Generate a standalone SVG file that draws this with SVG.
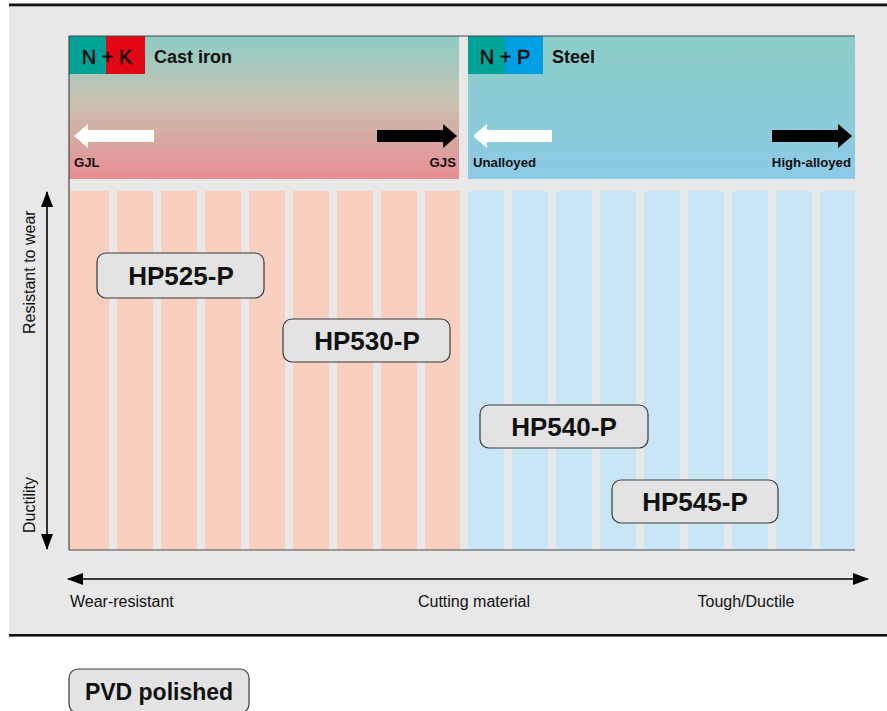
<svg xmlns="http://www.w3.org/2000/svg" width="887" height="711" viewBox="0 0 887 711">
<defs>
<linearGradient id="gCast" x1="0" y1="0" x2="0" y2="1">
<stop offset="0" stop-color="#8ccdc6"/>
<stop offset="0.45" stop-color="#c8c2b1"/>
<stop offset="1" stop-color="#e88d92"/>
</linearGradient>
<linearGradient id="gSteel" x1="0" y1="0" x2="0" y2="1">
<stop offset="0" stop-color="#8ccec7"/>
<stop offset="1" stop-color="#8ccae6"/>
</linearGradient>
<marker id="ah" viewBox="0 0 16 12" refX="15" refY="6" markerWidth="16" markerHeight="12" markerUnits="userSpaceOnUse" orient="auto-start-reverse">
<path d="M0,0 L16,6 L0,12 Z" fill="#000"/>
</marker>
<style>
.pk{fill:#f9cfbf}
.bl{fill:#c9e6f7}
.lbl{fill:#e3e3e3;stroke:#3a3a3a;stroke-width:1.2}
.lt{font-family:"Liberation Sans",Arial,sans-serif;font-weight:bold;font-size:26px;fill:#111;text-anchor:middle}
.ax{font-family:"Liberation Sans",Arial,sans-serif;font-size:16px;fill:#111}
.sm{font-family:"Liberation Sans",Arial,sans-serif;font-weight:bold;font-size:13.2px;fill:#111}
.hd{font-family:"Liberation Sans",Arial,sans-serif;font-weight:bold;font-size:18px;fill:#111}
.nk{font-family:"Liberation Sans",Arial,sans-serif;font-size:20px;fill:#000;stroke:#000;stroke-width:0.4;text-anchor:middle}
</style>
</defs>
<rect x="0" y="0" width="887" height="711" fill="#fff"/>
<rect x="9" y="5" width="878" height="630" fill="#e8e8e8"/>
<rect x="9" y="3.5" width="878" height="2.8" fill="#111"/>
<rect x="9" y="634" width="878" height="2.6" fill="#111"/>

<g id="cast-iron-panel">
<rect x="69" y="36" width="390" height="143" fill="url(#gCast)"/>
<rect x="69" y="36" width="37" height="38" fill="#00a396"/>
<rect x="106" y="36" width="39" height="38" fill="#e30613"/>
<text class="nk" x="107" y="64">N + K</text>
<text class="hd" x="154" y="63">Cast iron</text>
<path d="M74,136 L88,124 L88,130 L154,130 L154,142 L88,142 L88,148 Z" fill="#fff"/>
<path d="M457,136 L443,124 L443,130 L377,130 L377,142 L443,142 L443,148 Z" fill="#000"/>
<text class="sm" x="74" y="167">GJL</text>
<text class="sm" x="456" y="167" text-anchor="end">GJS</text>
</g>

<g id="steel-panel">
<rect x="468" y="36" width="387" height="143" fill="url(#gSteel)"/>
<rect x="468" y="36" width="37" height="38" fill="#00a396"/>
<rect x="505" y="36" width="38" height="38" fill="#009fe3"/>
<text class="nk" x="505" y="64">N + P</text>
<text class="hd" x="552" y="63">Steel</text>
<path d="M473,136 L487,124 L487,130 L552,130 L552,142 L487,142 L487,148 Z" fill="#fff"/>
<path d="M852,136 L838,124 L838,130 L772,130 L772,142 L838,142 L838,148 Z" fill="#000"/>
<text class="sm" x="473" y="167">Unalloyed</text>
<text class="sm" x="851" y="167" text-anchor="end">High-alloyed</text>
</g>

<g id="strips">
<rect class="pk" x="69" y="191" width="40" height="359"/>
<rect class="pk" x="117" y="191" width="36" height="359"/>
<rect class="pk" x="161" y="191" width="36" height="359"/>
<rect class="pk" x="205" y="191" width="36" height="359"/>
<rect class="pk" x="249" y="191" width="36" height="359"/>
<rect class="pk" x="293" y="191" width="36" height="359"/>
<rect class="pk" x="337" y="191" width="36" height="359"/>
<rect class="pk" x="381" y="191" width="36" height="359"/>
<rect class="pk" x="425" y="191" width="35" height="359"/>
<rect class="bl" x="468" y="191" width="36" height="359"/>
<rect class="bl" x="512" y="191" width="36" height="359"/>
<rect class="bl" x="556" y="191" width="36" height="359"/>
<rect class="bl" x="600" y="191" width="36" height="359"/>
<rect class="bl" x="644" y="191" width="36" height="359"/>
<rect class="bl" x="688" y="191" width="36" height="359"/>
<rect class="bl" x="732" y="191" width="36" height="359"/>
<rect class="bl" x="776" y="191" width="36" height="359"/>
<rect class="bl" x="820" y="191" width="35" height="359"/>
</g>

<g id="frame" fill="none" stroke="#4a4a4a" stroke-width="1.2">
<path d="M69,550 L69,36 L855,36"/>
<path d="M69,550 L855,550"/>
</g>

<g id="connectors" stroke="#000" stroke-width="1.6" fill="none">
<line x1="47" y1="192" x2="47" y2="549" marker-start="url(#ah)" marker-end="url(#ah)"/>
<line x1="68" y1="579" x2="868" y2="579" marker-start="url(#ah)" marker-end="url(#ah)"/>
</g>

<g id="axis-labels">
<text class="ax" transform="translate(35,334) rotate(-90)">Resistant to wear</text>
<text class="ax" transform="translate(35,533) rotate(-90)">Ductility</text>
<text class="ax" x="70" y="607">Wear-resistant</text>
<text class="ax" x="474" y="607" text-anchor="middle">Cutting material</text>
<text class="ax" x="746" y="607" text-anchor="middle">Tough/Ductile</text>
</g>

<g id="HP525-P">
<rect class="lbl" x="97" y="253" width="167" height="45" rx="9"/>
<text class="lt" x="181" y="285">HP525-P</text>
</g>
<g id="HP530-P">
<rect class="lbl" x="283" y="319" width="167" height="43" rx="9"/>
<text class="lt" x="367" y="350">HP530-P</text>
</g>
<g id="HP540-P">
<rect class="lbl" x="480" y="405" width="168" height="43" rx="9"/>
<text class="lt" x="564" y="436">HP540-P</text>
</g>
<g id="HP545-P">
<rect class="lbl" x="612" y="480" width="166" height="43" rx="9"/>
<text class="lt" x="695" y="511">HP545-P</text>
</g>
<g id="PVD-polished">
<rect class="lbl" x="69" y="669" width="180" height="44" rx="9"/>
<text class="lt" x="159" y="700" style="font-size:23px">PVD polished</text>
</g>
</svg>
